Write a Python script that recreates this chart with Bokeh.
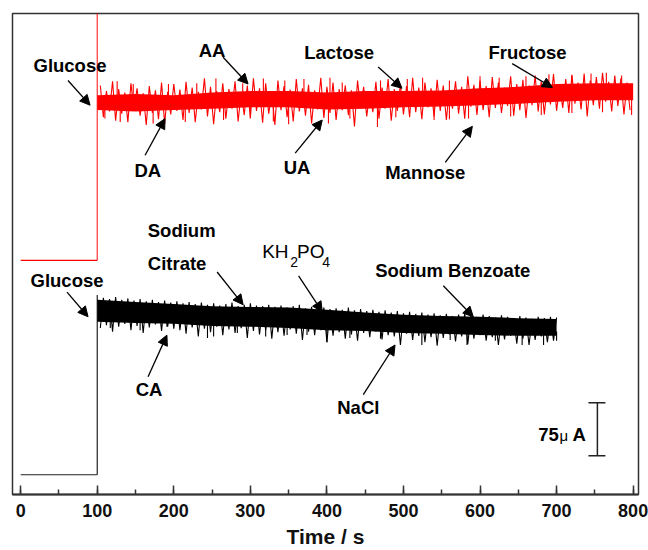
import numpy as np
from bokeh.plotting import figure
from bokeh.models import Range1d, SingleIntervalTicker, Arrow, NormalHead
from bokeh.core.properties import value
from bokeh.embed import file_html
from bokeh.resources import INLINE

# ---- amperometric response data (time in s, current offset in µA) ----
# red trace: glucose then interferents
red_base_t = [0, 100]
red_base_i = [332, 332]
red_t = [100, 150, 200, 250, 300, 350, 400, 450, 500, 550, 600, 650, 700, 750, 800]
red_hi = [566, 568, 566, 570, 572, 572, 570, 572, 572, 573, 576, 578, 582, 583, 583]
red_lo = [545, 543, 545, 547, 549, 549, 546, 547, 549, 550, 552, 554, 557, 559, 559]
# prominent excursions
red_pk_up_t = [126, 147, 193, 230, 255, 290, 317, 345, 370, 404, 420, 470, 505, 525, 560,
               600, 625, 660, 690, 720, 745, 765, 785]
red_pk_up_i = [586, 582, 582, 583, 590, 583, 590, 587, 589, 591, 584, 587, 589, 591, 587,
               593, 591, 593, 596, 594, 597, 598, 594]
red_pk_dn_t = [110, 130, 173, 215, 265, 300, 330, 350, 402, 430, 466, 490, 540, 560, 585,
               640, 680, 720, 760, 798]
red_pk_dn_i = [533, 528, 526, 528, 531, 533, 529, 525, 526, 533, 521, 535, 531, 532, 533,
               536, 538, 541, 542, 538]
# noise maxima / minima (maxima at 104 + 8k s, minima 4 s later)
red_up_i = [580, 572, 586, 575, 570, 583, 576, 569, 579, 573, 584, 571, 582,
            574, 585, 577, 571, 590, 578, 572, 583, 575, 586, 570, 580, 590,
            576, 583, 572, 587, 579, 574, 589, 576, 581, 573, 591, 578,
            584, 575, 580, 573, 587, 578, 572, 585, 577, 589, 575, 582, 579,
            591, 577, 584, 576, 588, 580, 574, 586, 578, 593, 581, 587,
            579, 592, 584, 577, 593, 582, 588, 580, 594, 586, 583, 596, 581,
            589, 595, 584, 597, 587, 592, 598, 585, 594, 590, 584]
red_dn_i = [535, 543, 530, 540, 528, 545, 537, 524, 541, 532, 526, 539, 544,
            531, 541, 528, 546, 536, 525, 542, 533, 547, 529, 538, 534, 544,
            527, 540, 524, 545, 535, 529, 543, 537, 526, 546, 534, 541,
            531, 545, 538, 522, 548, 536, 542, 533, 547, 530, 544, 539, 535,
            542, 532, 549, 536, 544, 531, 547, 540, 533, 550, 538, 545,
            535, 548, 541, 551, 537, 545, 534, 552, 543, 539, 553, 544, 548,
            541, 554, 546, 536, 552, 547, 557, 543, 551, 539, 545]

# black trace: glucose then salts / additives
blk_base_t = [0, 100]
blk_base_i = [28, 28]
blk_step_top = 283
blk_t = [100, 150, 200, 250, 300, 350, 400, 450, 500, 550, 600, 650, 700]
blk_hi = [276, 273, 270, 267, 266, 265, 262, 258, 255, 253, 252, 250, 249]
blk_lo = [245, 243, 242, 239, 238, 236, 233, 232, 229, 228, 226, 225, 225]
blk_pk_dn_t = [117, 156, 191, 244, 252, 283, 320, 348, 374, 400, 430, 470, 524, 561, 583,
               620, 655, 683, 700]
blk_pk_dn_i = [236, 233, 238, 222, 224, 229, 224, 226, 226, 216, 222, 221, 212, 219, 212,
               218, 212, 212, 218]
# noise minima at 104 + 8k s, maxima 4 s later
blk_dn_i = [236, 240, 231, 238, 242, 233, 239, 229, 237, 241, 232, 238, 235,
            233, 228, 237, 224, 235, 230, 238, 226, 234, 229, 236, 222, 232,
            227, 233, 221, 230, 225, 234, 228, 219, 231, 226, 233, 216,
            225, 230, 221, 227, 218, 229, 223, 231, 220, 226, 224, 212, 228,
            219, 225, 216, 223, 211, 222, 227, 217, 224, 213, 221, 226,
            218, 223, 212, 220, 225, 214, 221, 212, 219, 224, 216, 218]
blk_up_i = [279, 277, 280, 276, 278, 275, 277, 274, 276, 273, 275, 272, 274,
            271, 273, 270, 272, 269, 271, 268, 270, 272, 267, 269, 271, 268,
            267, 269, 266, 268, 265, 267, 269, 264, 266, 268, 265, 263,
            264, 262, 265, 261, 263, 260, 262, 259, 261, 258, 260, 257, 259,
            256, 258, 255, 257, 254, 256, 253, 255, 257, 254, 252, 255,
            253, 251, 254, 252, 250, 253, 251, 249, 252, 250, 252, 251]

scale_bar_ua = 75
scale_bar_bottom = 55

FONT = value("Liberation Sans")


def interleave(first, second):
    out = np.empty(len(first) + len(second))
    out[0::2] = first
    out[1::2] = second
    return out


red_noise_t = np.arange(104, 800, 4)
red_noise_i = interleave(red_up_i, red_dn_i)
blk_noise_t = np.arange(104, 701, 4)
blk_noise_i = interleave(blk_dn_i, blk_up_i)

p = figure(width=648, height=550, output_backend="svg", toolbar_location=None,
           x_range=Range1d(-10.7, 807), y_range=Range1d(0, 682),
           min_border_left=12, min_border_right=10, min_border_top=13,
           min_border_bottom=0)
p.background_fill_color = "white"
p.border_fill_color = "white"
p.xgrid.visible = False
p.ygrid.visible = False
p.yaxis.visible = False
p.outline_line_color = "#333333"
p.outline_line_width = 1.5

ax = p.xaxis[0]
ax.ticker = SingleIntervalTicker(interval=100, num_minor_ticks=2)
ax.axis_label = "Time / s"
ax.axis_label_text_font = "Liberation Sans"
ax.axis_label_text_font_style = "bold"
ax.axis_label_text_font_size = "21px"
ax.axis_label_text_color = "#111111"
ax.axis_label_text_line_height = 0.9
ax.axis_label_standoff = 5
ax.major_label_text_font = "Liberation Sans"
ax.major_label_text_font_style = "bold"
ax.major_label_text_font_size = "18px"
ax.major_label_text_color = "#111111"
ax.major_label_text_line_height = 0.9
ax.major_label_standoff = 9
ax.major_tick_in = 9
ax.major_tick_out = 0
ax.minor_tick_in = 5
ax.minor_tick_out = 0
ax.axis_line_width = 2
ax.axis_line_color = "#333333"
ax.major_tick_line_color = "#333333"
ax.major_tick_line_width = 1.5
ax.minor_tick_line_color = "#333333"
ax.minor_tick_line_width = 1.5

RED = "#ff0000"


def spikes(t, vals, core_t, core_edge, shift, color):
    base = np.interp(t, core_t, core_edge) + shift
    p.segment(x0=t, y0=base, x1=t, y1=vals, color=color, line_width=1.1)


# red trace
p.line(red_base_t, red_base_i, color=RED, line_width=1.2)
p.line([100, 100], [red_base_i[-1], 720], color=RED, line_width=1.2, line_alpha=0.8)
p.varea(x=red_t, y1=red_lo, y2=red_hi, fill_color=RED)
p.line(red_noise_t, red_noise_i, color=RED, line_width=1.1)
spikes(red_pk_up_t, red_pk_up_i, red_t, red_hi, -6, RED)
spikes(red_pk_dn_t, red_pk_dn_i, red_t, red_lo, 6, RED)

# black trace
p.line(blk_base_t, blk_base_i, color="#222222", line_width=1.2)
p.line([100, 100], [blk_base_i[-1], blk_step_top], color="#222222", line_width=1.2)
p.varea(x=blk_t, y1=blk_lo, y2=blk_hi, fill_color="black")
p.line(blk_noise_t, blk_noise_i, color="black", line_width=1.1)
spikes(blk_pk_dn_t, blk_pk_dn_i, blk_t, blk_lo, 6, "black")

# annotation labels (centred)
lab_x = [64.4, 250, 416, 662, 166, 361, 528.5, 60.5, 167.7, 441]
lab_y = [608, 630, 627, 627, 460, 463, 456, 303, 148.6, 123]
lab_t = ["Glucose", "AA", "Lactose", "Fructose", "DA", "UA", "Mannose",
         "Glucose", "CA", "NaCl"]
p.text(x=lab_x, y=lab_y, text=lab_t, text_font=FONT, text_font_style="bold",
       text_font_size="18.5px", text_align="center", text_baseline="middle",
       text_color="black")

# left-aligned labels
p.text(x=[166, 166, 463], y=[375, 328, 317], text=["Sodium", "Citrate", "Sodium Benzoate"],
       text_font=FONT, text_font_style="bold", text_font_size="18.5px",
       text_align="left", text_baseline="middle", text_color="black")

# KH2PO4 with subscripts
p.text(x=[315.4, 361], y=[345, 345], text=["KH", "PO"], text_font=FONT,
       text_font_size="19px", text_align="left", text_baseline="middle", text_color="black")
p.text(x=[352, 394], y=[330, 330], text=["2", "4"], text_font=FONT,
       text_font_size="14px", text_align="left", text_baseline="middle", text_color="black")

# arrows: (tail_x, tail_y, head_x, head_y)
arrows = [
    (61.8, 587, 90.6, 552), (264.4, 620, 297, 582), (467, 606, 498, 576),
    (642, 611, 694.5, 577), (162.5, 481, 188.6, 533), (358.6, 484, 393.9, 531),
    (554.6, 471, 590, 522),
    (60.5, 287, 88, 252), (256.6, 315.5, 290.6, 269), (363, 310, 394, 259),
    (552, 296, 591.2, 252), (166.4, 167, 191, 226), (447.5, 141.5, 489, 212),
]
for x0, y0, x1, y1 in arrows:
    p.add_layout(Arrow(end=NormalHead(size=10, fill_color="black", line_color="black"),
                       x_start=x0, y_start=y0, x_end=x1, y_end=y1,
                       line_color="black", line_width=1.3))

# current scale bar
sb_top = scale_bar_bottom + scale_bar_ua
p.segment(x0=[753.3, 741.6, 741.6], y0=[scale_bar_bottom, scale_bar_bottom, sb_top],
          x1=[753.3, 763.8, 763.8], y1=[sb_top, scale_bar_bottom, sb_top],
          color="#222222", line_width=1.5)
p.text(x=[676], y=[85], text=[str(scale_bar_ua)], text_font=FONT, text_font_style="bold",
       text_font_size="18.5px", text_align="left", text_baseline="middle", text_color="black")
p.text(x=[703.7], y=[83], text=["μ"], text_font=FONT,
       text_font_size="15px", text_align="left", text_baseline="middle", text_color="black")
p.text(x=[720.7], y=[85], text=["A"], text_font=FONT, text_font_style="bold",
       text_font_size="18.5px", text_align="left", text_baseline="middle", text_color="black")

open("out.html", "w").write(file_html(p, INLINE))
